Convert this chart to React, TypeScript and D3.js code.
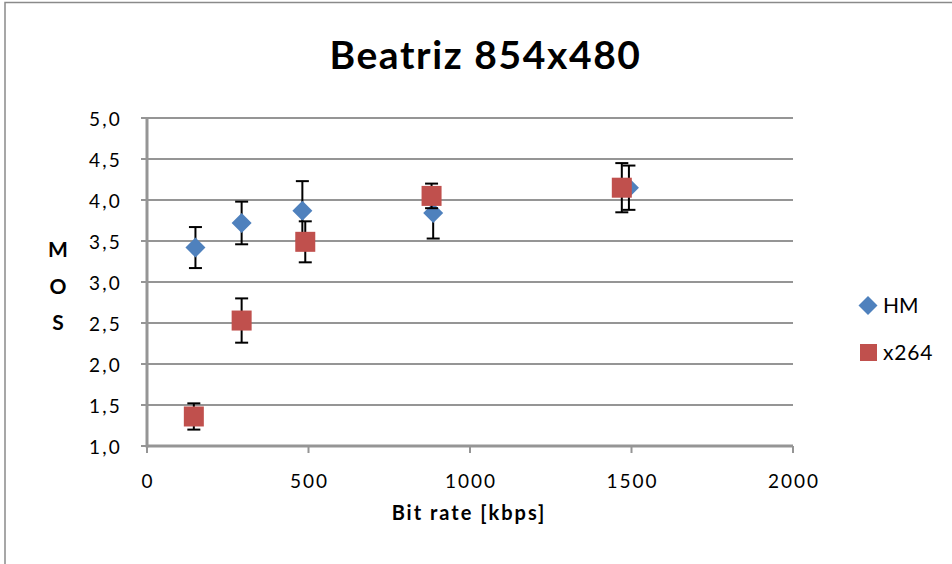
import React from "react";
import * as d3 from "d3";

const title = "Beatriz 854x480";
const xLabel = "Bit rate [kbps]";
const yLabelChars = ["M", "O", "S"];
const xTicks = [0, 500, 1000, 1500, 2000];
const yTicks = [1.0, 1.5, 2.0, 2.5, 3.0, 3.5, 4.0, 4.5, 5.0];

const hmRate = [150, 293, 481, 886, 1492];
const hmMos = [3.42, 3.72, 3.87, 3.84, 4.15];
const hmErr = [0.25, 0.26, 0.36, 0.31, 0.27];

const x264Rate = [145, 293, 490, 881, 1470];
const x264Mos = [1.36, 2.53, 3.49, 4.05, 4.15];
const x264Err = [0.16, 0.27, 0.25, 0.15, 0.3];

const seriesNames = ["HM", "x264"];
const colors = ["#4F81BD", "#C0504D"];

export default function App() {
  const x = d3.scaleLinear().domain([0, 2000]).range([147, 793]);
  const y = d3.scaleLinear().domain([1, 5]).range([446, 118]);
  const font = "Lato, 'Open Sans', sans-serif";
  const grid = "#959595";
  const cap = 6.5;

  const errBars = (rates: number[], mos: number[], err: number[], key: string) =>
    rates.map((r, i) => {
      const cx = x(r);
      const y1 = y(mos[i] + err[i]);
      const y2 = y(mos[i] - err[i]);
      return (
        <g key={key + i} stroke="#000" strokeWidth={2}>
          <line x1={cx} x2={cx} y1={y1} y2={y2} />
          <line x1={cx - cap} x2={cx + cap} y1={y1} y2={y1} />
          <line x1={cx - cap} x2={cx + cap} y1={y2} y2={y2} />
        </g>
      );
    });

  const diamond = (cx: number, cy: number, r: number) =>
    `M${cx},${cy - r}L${cx + r},${cy}L${cx},${cy + r}L${cx - r},${cy}Z`;

  return (
    <svg width={952} height={564} style={{ position: "absolute", left: 0, top: 0 }}>
      <rect x={0} y={0} width={952} height={564} fill="#fff" />
      <path d="M5,564V2.5H952" fill="none" stroke="#8a8a8a" strokeWidth={1.5} />
      <text x={485.5} y={69} textAnchor="middle" fontFamily={font} fontWeight="bold" fontSize={39} letterSpacing={1.6} fill="#000">
        {title}
      </text>
      {yTicks.slice(1).map((t) => (
        <line key={"g" + t} x1={x(0)} x2={x(2000)} y1={y(t)} y2={y(t)} stroke={grid} strokeWidth={2} />
      ))}
      {yTicks.map((t) => (
        <g key={"yt" + t}>
          <line x1={x(0) - 6} x2={x(0)} y1={y(t)} y2={y(t)} stroke={grid} strokeWidth={2} />
          <text x={122} y={y(t) + 7.5} textAnchor="end" fontFamily={font} fontSize={19} letterSpacing={2.2} fill="#000">
            {t.toFixed(1).replace(".", ",")}
          </text>
        </g>
      ))}
      {xTicks.map((t) => (
        <g key={"xt" + t}>
          <line x1={x(t)} x2={x(t)} y1={y(1)} y2={y(1) + 7} stroke={grid} strokeWidth={2} />
          <text x={x(t) + 1} y={488} textAnchor="middle" fontFamily={font} fontSize={19} letterSpacing={2} fill="#000">
            {t}
          </text>
        </g>
      ))}
      <line x1={x(0)} x2={x(0)} y1={y(5)} y2={y(1) + 1.5} stroke={grid} strokeWidth={3} />
      <line x1={x(0)} x2={x(2000)} y1={y(1)} y2={y(1)} stroke={grid} strokeWidth={3} />
      <text x={469} y={520} textAnchor="middle" fontFamily={font} fontWeight="bold" fontSize={20} letterSpacing={2} fill="#000">
        {xLabel}
      </text>
      {yLabelChars.map((c, i) => (
        <text key={c} x={58} y={257 + i * 36.5} textAnchor="middle" fontFamily={font} fontWeight="bold" fontSize={21} fill="#000">
          {c}
        </text>
      ))}
      {errBars(hmRate, hmMos, hmErr, "he")}
      {hmRate.map((r, i) => (
        <path key={"hm" + i} d={diamond(x(r), y(hmMos[i]), 10)} fill={colors[0]} />
      ))}
      {errBars(x264Rate, x264Mos, x264Err, "xe")}
      {x264Rate.map((r, i) => (
        <rect key={"x" + i} x={x(r) - 10} y={y(x264Mos[i]) - 10} width={20} height={20} fill={colors[1]} />
      ))}
      <path d={diamond(868, 305.5, 9.5)} fill={colors[0]} />
      <text x={883} y={313} fontFamily={font} fontSize={21} fill="#000">{seriesNames[0]}</text>
      <rect x={860} y={344} width={17} height={17} fill={colors[1]} />
      <text x={883} y={360} fontFamily={font} fontSize={21} letterSpacing={0.8} fill="#000">{seriesNames[1]}</text>
    </svg>
  );
}
